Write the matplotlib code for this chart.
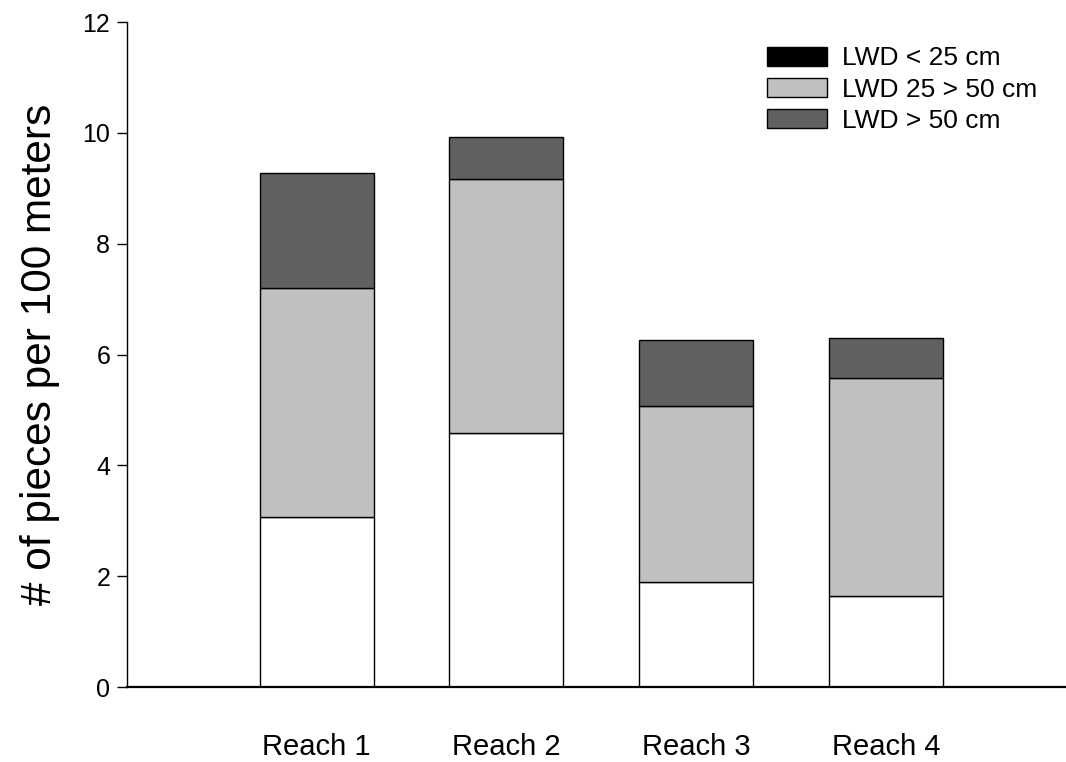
# Large woody debris per reach, stacked by size class

import matplotlib.pyplot as plt
from matplotlib.patches import Patch
import numpy as np

plt.rcParams['font.family'] = ['Liberation Sans', 'DejaVu Sans']

reaches = ['Reach 1', 'Reach 2', 'Reach 3', 'Reach 4']
lwd_small = [3.07, 4.58, 1.89, 1.65]    # LWD < 25 cm
lwd_medium = [4.13, 4.59, 3.19, 3.92]   # LWD 25 > 50 cm
lwd_large = [2.08, 0.75, 1.19, 0.73]    # LWD > 50 cm

legend_labels = ['LWD < 25 cm', 'LWD 25 > 50 cm', 'LWD > 50 cm']

fig = plt.figure(figsize=(10.66, 7.62), dpi=100)
ax = fig.add_axes([0.1191, 0.0984, 0.8809, 0.8727])

x = np.arange(1, len(reaches) + 1)
w = 0.6
small = np.array(lwd_small)
medium = np.array(lwd_medium)
large = np.array(lwd_large)

ax.bar(x, small, w, color='white', edgecolor='black', linewidth=1)
ax.bar(x, medium, w, bottom=small, color='#c0c0c0', edgecolor='black', linewidth=1)
ax.bar(x, large, w, bottom=small + medium, color='#606060', edgecolor='black', linewidth=1)

ax.set_xlim(0, 4.95)
ax.set_ylim(0, 12)
ax.set_yticks(np.arange(0, 13, 2))
ax.set_xticks(x)
ax.set_xticklabels(reaches, fontsize=21)
ax.tick_params(axis='x', length=0, pad=33)
ax.tick_params(axis='y', labelsize=18, length=7, width=1, direction='out', pad=5)

ax.spines['top'].set_visible(False)
ax.spines['right'].set_visible(False)
ax.spines['left'].set_linewidth(1)
ax.spines['bottom'].set_linewidth(1.6)

ax.set_ylabel('# of pieces per 100 meters', fontsize=30.5, labelpad=16)

handles = [Patch(facecolor='black', edgecolor='black'),
           Patch(facecolor='#c0c0c0', edgecolor='black'),
           Patch(facecolor='#606060', edgecolor='black')]
fig.legend(handles, legend_labels, loc='upper left', bbox_to_anchor=(0.7195, 0.939),
           frameon=False, fontsize=19, handlelength=2.27, handleheight=0.72,
           handletextpad=0.57, labelspacing=0.27, borderpad=0, borderaxespad=0)

fig.savefig('out.png', dpi=100)
